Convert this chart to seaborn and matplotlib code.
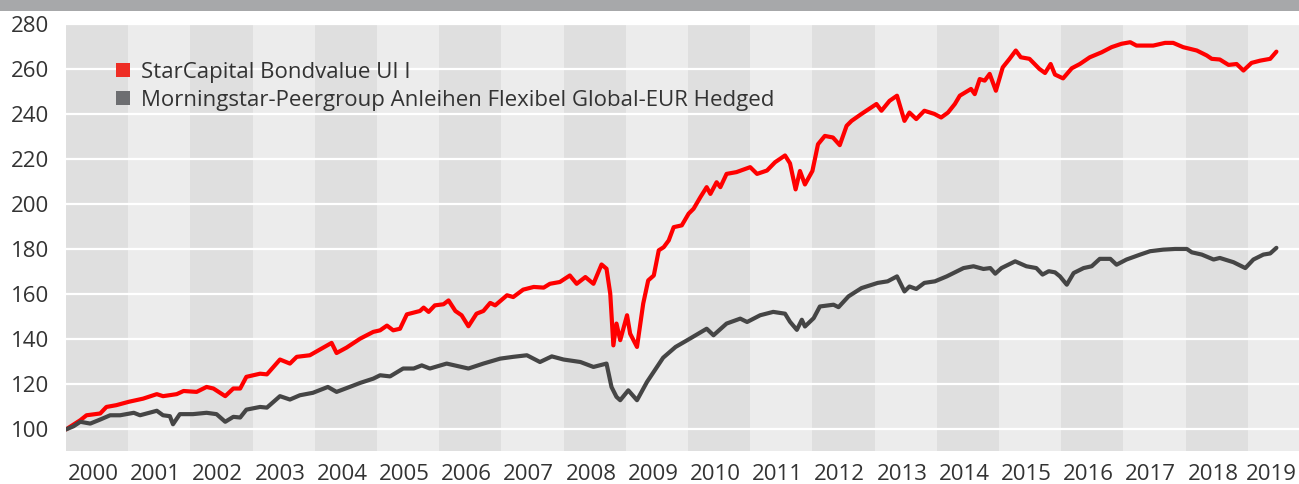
import numpy as np
import pandas as pd
import matplotlib
matplotlib.use("Agg")
import matplotlib.pyplot as plt
import seaborn as sns
from matplotlib.patches import Patch, Rectangle

# --- Werte (Jahr als Dezimalzahl) ---
fund_t = [2000.00, 2000.23, 2000.33, 2000.55, 2000.65, 2000.81, 2001.01, 2001.24, 2001.46, 2001.56,
          2001.78, 2001.89, 2002.10, 2002.26, 2002.37, 2002.56, 2002.69, 2002.80, 2002.90, 2003.12,
          2003.23, 2003.44, 2003.60, 2003.71, 2003.92, 2004.08, 2004.27, 2004.35, 2004.51, 2004.73,
          2004.94, 2005.05, 2005.16, 2005.26, 2005.37, 2005.48, 2005.69, 2005.75, 2005.83, 2005.93,
          2006.07, 2006.15, 2006.26, 2006.36, 2006.47, 2006.60, 2006.71, 2006.82, 2006.90, 2007.09,
          2007.19, 2007.35, 2007.52, 2007.68, 2007.78, 2007.94, 2008.10, 2008.21, 2008.35, 2008.48,
          2008.61, 2008.69, 2008.75, 2008.80, 2008.85, 2008.91, 2009.02, 2009.07, 2009.18, 2009.28,
          2009.36, 2009.45, 2009.53, 2009.61, 2009.69, 2009.77, 2009.90, 2010.01, 2010.09, 2010.20,
          2010.30, 2010.36, 2010.46, 2010.52, 2010.62, 2010.78, 2011.00, 2011.11, 2011.27, 2011.40,
          2011.56, 2011.64, 2011.73, 2011.80, 2011.88, 2012.00, 2012.09, 2012.20, 2012.33, 2012.44,
          2012.55, 2012.63, 2012.79, 2012.95, 2013.03, 2013.11, 2013.24, 2013.36, 2013.48, 2013.56,
          2013.67, 2013.80, 2013.96, 2014.07, 2014.18, 2014.29, 2014.37, 2014.55, 2014.61, 2014.69,
          2014.77, 2014.85, 2014.95, 2015.06, 2015.17, 2015.27, 2015.35, 2015.49, 2015.65, 2015.74,
          2015.83, 2015.90, 2016.03, 2016.17, 2016.30, 2016.46, 2016.65, 2016.81, 2016.97, 2017.11,
          2017.21, 2017.48, 2017.67, 2017.80, 2017.96, 2018.18, 2018.34, 2018.42, 2018.55, 2018.69,
          2018.82, 2018.93, 2019.06, 2019.20, 2019.36, 2019.46]
fund_v = [99.6, 103.7, 105.9, 106.7, 109.6, 110.4, 111.9, 113.3, 115.3, 114.4,
          115.3, 116.7, 116.3, 118.5, 117.8, 114.4, 117.8, 117.8, 123.0, 124.4,
          124.1, 130.7, 128.9, 131.9, 132.6, 135.1, 138.1, 133.6, 136.0, 140.0,
          143.0, 143.7, 145.8, 143.7, 144.4, 150.8, 152.3, 153.8, 151.9, 154.8,
          155.3, 157.0, 152.3, 150.4, 145.5, 151.1, 152.3, 155.9, 154.8, 159.3,
          158.5, 161.8, 163.0, 162.7, 164.4, 165.2, 168.1, 164.4, 167.4, 164.4,
          173.0, 171.1, 160.0, 137.0, 146.7, 139.3, 150.4, 142.2, 136.3, 155.6,
          165.9, 168.1, 179.3, 180.7, 183.7, 189.6, 190.4, 195.6, 197.8, 203.0,
          207.4, 204.4, 209.6, 207.4, 213.3, 214.1, 216.3, 213.3, 214.8, 218.5,
          221.5, 218.0, 206.4, 214.6, 208.6, 214.6, 226.5, 230.2, 229.5, 226.1,
          234.7, 236.9, 240.0, 242.9, 244.4, 241.4, 245.8, 248.1, 236.9, 240.6,
          237.7, 241.4, 240.0, 238.4, 240.6, 244.4, 248.1, 251.1, 248.8, 255.5,
          254.8, 257.8, 250.3, 260.7, 264.5, 268.2, 265.2, 264.5, 260.0, 258.2,
          262.2, 257.5, 255.8, 260.3, 262.2, 265.2, 267.4, 269.7, 271.2, 271.9,
          270.4, 270.4, 271.6, 271.6, 269.7, 268.2, 266.0, 264.5, 264.2, 261.8,
          262.2, 259.3, 262.7, 263.7, 264.5, 267.7]

peer_t = [2000.00, 2000.12, 2000.23, 2000.39, 2000.55, 2000.71, 2000.87, 2001.09, 2001.19, 2001.46,
          2001.56, 2001.67, 2001.72, 2001.83, 2002.04, 2002.26, 2002.42, 2002.56, 2002.69, 2002.80,
          2002.90, 2003.12, 2003.23, 2003.44, 2003.60, 2003.76, 2003.97, 2004.21, 2004.35, 2004.56,
          2004.73, 2004.94, 2005.05, 2005.21, 2005.42, 2005.59, 2005.72, 2005.85, 2006.12, 2006.47,
          2006.71, 2006.98, 2007.19, 2007.41, 2007.62, 2007.81, 2008.00, 2008.27, 2008.48, 2008.69,
          2008.77, 2008.85, 2008.91, 2009.04, 2009.18, 2009.34, 2009.60, 2009.80, 2010.00, 2010.30,
          2010.41, 2010.62, 2010.84, 2010.95, 2011.16, 2011.37, 2011.56, 2011.64, 2011.75, 2011.83,
          2011.88, 2012.02, 2012.12, 2012.34, 2012.42, 2012.58, 2012.79, 2013.05, 2013.21, 2013.36,
          2013.48, 2013.56, 2013.67, 2013.80, 2013.97, 2014.16, 2014.43, 2014.59, 2014.75, 2014.86,
          2014.94, 2015.04, 2015.26, 2015.44, 2015.60, 2015.70, 2015.80, 2015.90, 2015.98, 2016.09,
          2016.20, 2016.36, 2016.49, 2016.62, 2016.79, 2016.89, 2017.05, 2017.27, 2017.43, 2017.64,
          2017.83, 2018.02, 2018.10, 2018.26, 2018.45, 2018.55, 2018.77, 2018.96, 2019.09, 2019.25,
          2019.36, 2019.46]
peer_v = [99.6, 101.0, 103.0, 102.2, 104.0, 105.9, 105.9, 107.0, 105.9, 107.9,
          105.9, 105.5, 101.9, 106.4, 106.4, 107.0, 106.4, 103.0, 105.2, 104.9,
          108.4, 109.6, 109.3, 114.4, 112.9, 114.8, 115.9, 118.5, 116.3, 118.5,
          120.3, 122.2, 123.7, 123.2, 126.7, 126.7, 128.1, 126.7, 128.9, 126.7,
          128.9, 131.1, 131.9, 132.6, 129.6, 132.1, 130.7, 129.6, 127.4, 128.9,
          118.5, 114.1, 112.6, 117.0, 112.6, 120.7, 131.5, 136.3, 139.5, 144.4,
          141.5, 146.7, 148.9, 147.4, 150.4, 151.9, 151.1, 147.5, 143.9, 148.4,
          145.4, 149.1, 154.3, 155.1, 154.0, 158.8, 162.5, 164.8, 165.5, 167.7,
          161.0, 163.2, 162.1, 164.8, 165.5, 167.7, 171.4, 172.2, 171.0, 171.4,
          168.9, 171.4, 174.4, 172.2, 171.4, 168.5, 170.0, 169.5, 167.7, 164.0,
          169.2, 171.4, 172.2, 175.5, 175.5, 172.9, 175.2, 177.4, 178.9, 179.6,
          179.9, 179.9, 178.4, 177.4, 175.2, 175.9, 174.0, 171.4, 175.2, 177.4,
          177.9, 180.4]

series_names = ["StarCapital Bondvalue UI I",
                "Morningstar-Peergroup Anleihen Flexibel Global-EUR Hedged"]
years = list(range(2000, 2020))
y_ticks = [100, 120, 140, 160, 180, 200, 220, 240, 260, 280]

# --- Stil ---
sns.set_style("white")
plt.rcParams['font.family'] = ['Open Sans', 'DejaVu Sans']
TEXT = '#333333'
FS = 16
LINE_COLORS = {series_names[0]: '#FF0000', series_names[1]: '#454545'}
LEGEND_COLORS = ['#EE2D24', '#6D6E71']

df = pd.concat([
    pd.DataFrame({'jahr': fund_t, 'wert': fund_v, 'serie': series_names[0]}),
    pd.DataFrame({'jahr': peer_t, 'wert': peer_v, 'serie': series_names[1]}),
], ignore_index=True)

fig = plt.figure(figsize=(12.99, 4.84), dpi=100)
ax = fig.add_axes([66 / 1299, 33 / 484, 1233 / 1299, 427 / 484])

# graues Titelband oben (Titel selbst abgeschnitten)
fig.patches.append(Rectangle((0, 1 - 10.5 / 484), 1, 10.5 / 484, transform=fig.transFigure,
                             facecolor='#A7A8AA', edgecolor='none'))

# Jahresbänder abwechselnd dunkel / hell
for i, yr in enumerate(years):
    ax.axvspan(yr, yr + 1, color='#DFDFDF' if i % 2 == 0 else '#ECECEC', lw=0, zorder=0)

sns.lineplot(data=df, x='jahr', y='wert', hue='serie', palette=LINE_COLORS,
             estimator=None, sort=False, linewidth=3.0, ax=ax, legend=False, zorder=3)

x_max = 2000 + 1233 / 62.2
ax.set_xlim(2000, x_max)
ax.set_ylim(90, 280)
ax.set_yticks(y_ticks)
# Beschriftung mittig im sichtbaren Teil des Jahresbands
tick_pos = [y + 0.44 for y in years[:-1]] + [(years[-1] + x_max) / 2 - 0.03]
ax.set_xticks(tick_pos)
ax.set_xticklabels([str(y) for y in years])
ax.set_axisbelow(True)
ax.yaxis.grid(True, color='white', lw=1.6)
ax.xaxis.grid(False)
ax.tick_params(axis='both', length=0, labelsize=FS, labelcolor=TEXT)
ax.tick_params(axis='x', pad=9)
ax.tick_params(axis='y', pad=12)
ax.set_xlabel('')
ax.set_ylabel('')
for s in ax.spines.values():
    s.set_visible(False)

handles = [Patch(facecolor=c, edgecolor='none') for c in LEGEND_COLORS]
ax.legend(handles, series_names, loc='upper left', bbox_to_anchor=(0.0406, 0.912),
          frameon=False, fontsize=FS, labelcolor=TEXT, handlelength=0.62, handleheight=0.62,
          handletextpad=0.5, labelspacing=0.32, borderpad=0, borderaxespad=0)

fig.savefig('out.png', dpi=100)
